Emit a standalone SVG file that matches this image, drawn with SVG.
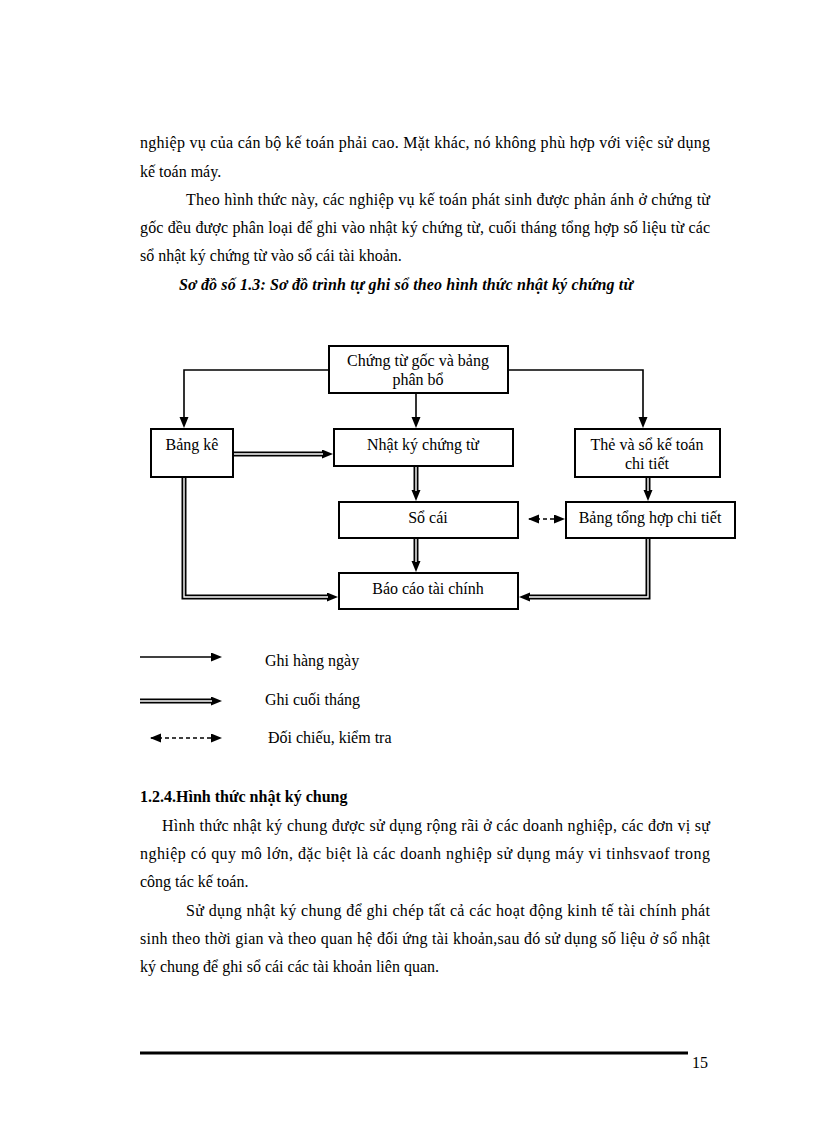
<svg xmlns="http://www.w3.org/2000/svg" width="816" height="1123" viewBox="0 0 816 1123">
<style>
.body{font-family:"Liberation Serif","Times New Roman",serif;font-size:16px;fill:#000}
.nt{font-family:"Liberation Serif","Times New Roman",serif;font-size:16px;fill:#000;text-anchor:middle}
.box{fill:#fff;stroke:#000;stroke-width:2}
.thin{fill:none;stroke:#000;stroke-width:1.6}
.dbl{fill:none;stroke:#000;stroke-width:5}
.dblw{fill:none;stroke:#fff;stroke-width:1.4}
.dash{fill:none;stroke:#000;stroke-width:1.4;stroke-dasharray:4 3}
</style>
<defs>
<marker id="ah" markerUnits="userSpaceOnUse" markerWidth="12" markerHeight="10" refX="1" refY="4.5" orient="auto">
<path d="M0,0 L11,4.5 L0,9 z" fill="#000"/>
</marker>
<marker id="ahs" markerUnits="userSpaceOnUse" markerWidth="12" markerHeight="10" refX="10" refY="4.5" orient="auto-start-reverse">
<path d="M0,0 L11,4.5 L0,9 z" fill="#000"/>
</marker>
</defs>
<rect width="816" height="1123" fill="#fff"/>

<g id="text-top" class="body">
<text x="140" y="148" textLength="570" lengthAdjust="spacing">nghiệp vụ của cán bộ kế toán phải cao. Mặt khác, nó không phù hợp với việc sử dụng</text>
<text x="140" y="177">kế toán máy.</text>
<text x="186" y="205" textLength="524" lengthAdjust="spacing">Theo hình thức này, các nghiệp vụ kế toán phát sinh được phản ánh ở chứng từ</text>
<text x="140" y="233" textLength="570" lengthAdjust="spacing">gốc đều được phân loại để ghi vào nhật ký chứng từ, cuối tháng tổng hợp số liệu từ các</text>
<text x="140" y="261">sổ nhật ký chứng từ vào sổ cái tài khoản.</text>
<text x="179" y="290" font-weight="bold" font-style="italic" textLength="454" lengthAdjust="spacing">Sơ đồ số 1.3: Sơ đồ trình tự ghi sổ theo hình thức nhật ký chứng từ</text>
</g>

<g id="connectors">
<path class="thin" d="M329,370 H184 V418" marker-end="url(#ah)"/>
<path class="thin" d="M416,393 V418" marker-end="url(#ah)"/>
<path class="thin" d="M508,370 H643 V418" marker-end="url(#ah)"/>

<path class="dbl" d="M233,454 H323" marker-end="url(#ah)"/>
<path class="dblw" d="M233,454 H323"/>
<path class="dbl" d="M416,466 V491" marker-end="url(#ah)"/>
<path class="dblw" d="M416,466 V491"/>
<path class="dbl" d="M648,477 V491" marker-end="url(#ah)"/>
<path class="dblw" d="M648,477 V491"/>
<path class="dbl" d="M416,538 V562" marker-end="url(#ah)"/>
<path class="dblw" d="M416,538 V562"/>
<path class="dbl" d="M184,477 V597 H328" marker-end="url(#ah)"/>
<path class="dblw" d="M184,477 V597 H328"/>
<path class="dbl" d="M648,538 V597 H529" marker-end="url(#ah)"/>
<path class="dblw" d="M648,538 V597 H529"/>

<path class="dash" d="M529,519 H555" marker-start="url(#ahs)" marker-end="url(#ah)"/>
</g>

<g id="n-chungtu"><rect class="box" x="329" y="346" width="179" height="47"/><text class="nt" x="418" y="366">Chứng từ gốc và bảng</text><text class="nt" x="418" y="385">phân bổ</text></g>
<g id="n-bangke"><rect class="box" x="151" y="429" width="82" height="48"/><text class="nt" x="192" y="450">Bảng kê</text></g>
<g id="n-nhatky"><rect class="box" x="334" y="429" width="179" height="37"/><text class="nt" x="423" y="450">Nhật ký chứng từ</text></g>
<g id="n-the"><rect class="box" x="575" y="429" width="145" height="48"/><text class="nt" x="647" y="450">Thẻ và sổ kế toán</text><text class="nt" x="647" y="469">chi tiết</text></g>
<g id="n-socai"><rect class="box" x="339" y="502" width="179" height="36"/><text class="nt" x="428" y="523">Sổ cái</text></g>
<g id="n-tonghop"><rect class="box" x="566" y="502" width="169" height="36"/><text class="nt" x="650" y="523">Bảng tổng hợp chi tiết</text></g>
<g id="n-baocao"><rect class="box" x="339" y="573" width="179" height="36"/><text class="nt" x="428" y="594">Báo cáo tài chính</text></g>

<g id="legend">
<path class="thin" d="M140,657 H212" marker-end="url(#ah)"/>
<path class="dbl" d="M140,701 H212" marker-end="url(#ah)"/>
<path class="dblw" d="M140,701 H212"/>
<path class="dash" d="M151,738 H212" marker-start="url(#ahs)" marker-end="url(#ah)"/>
<text class="body" x="265" y="666" font-size="15.5">Ghi hàng ngày</text>
<text class="body" x="265" y="705" font-size="15.5">Ghi cuối tháng</text>
<text class="body" x="268" y="743" font-size="15.5">Đối chiếu, kiểm tra</text>
</g>

<g id="text-bottom" class="body">
<text x="140" y="802" font-weight="bold">1.2.4.Hình thức nhật ký chung</text>
<text x="162" y="831" textLength="548" lengthAdjust="spacing">Hình thức nhật ký chung được sử dụng rộng rãi ở các doanh nghiệp, các đơn vị sự</text>
<text x="140" y="859" textLength="570" lengthAdjust="spacing">nghiệp có quy mô lớn, đặc biệt là các doanh nghiệp sử dụng máy vi tinhsvaof trong</text>
<text x="140" y="887">công tác kế toán.</text>
<text x="186" y="916" textLength="524" lengthAdjust="spacing">Sử dụng nhật ký chung để ghi chép tất cả các hoạt động kinh tế tài chính phát</text>
<text x="140" y="944" textLength="570" lengthAdjust="spacing">sinh theo thời gian và theo quan hệ đối ứng tài khoản,sau đó sử dụng số liệu ở sổ nhật</text>
<text x="140" y="972">ký chung để ghi sổ cái các tài khoản liên quan.</text>
</g>

<g id="footer">
<line x1="140" y1="1053" x2="688" y2="1053" stroke="#000" stroke-width="3"/>
<text class="body" x="692" y="1068" font-size="15">15</text>
</g>
</svg>
